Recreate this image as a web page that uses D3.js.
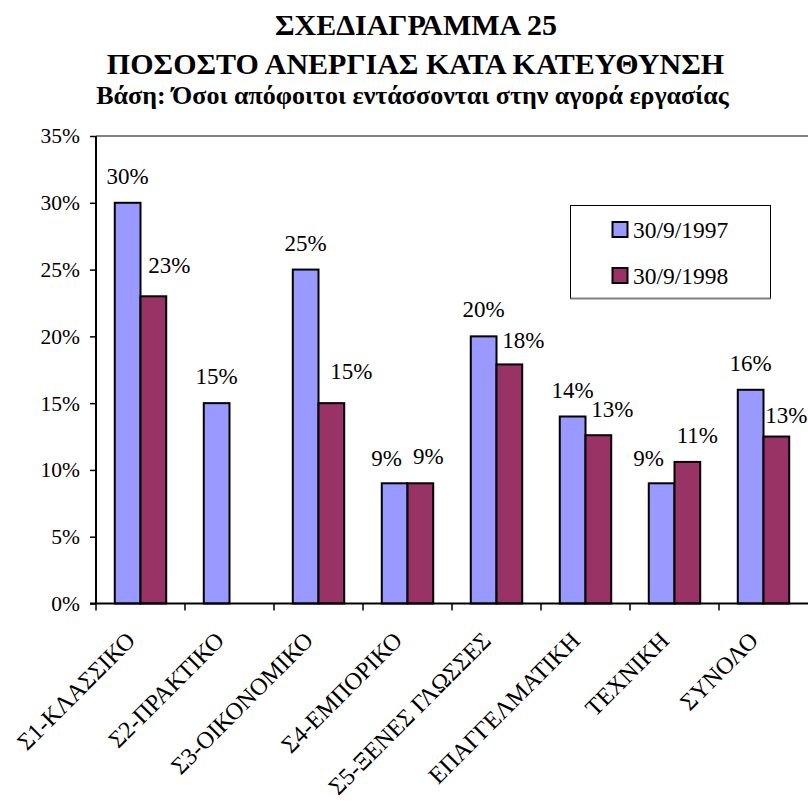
<!DOCTYPE html>
<html>
<head>
<meta charset="utf-8">
<script src="https://cdn.jsdelivr.net/npm/d3@7"></script>
<style>
    body { margin: 0; background: #fff; }
    text { font-family: "Liberation Serif", "Times New Roman", serif; }
</style>
</head>
<body>
<div id="chart"></div>
<script>
(function () {

    // chart data
    var categories = ["Σ1-ΚΛΑΣΣΙΚΟ", "Σ2-ΠΡΑΚΤΙΚΟ", "Σ3-ΟΙΚΟΝΟΜΙΚΟ", "Σ4-ΕΜΠΟΡΙΚΟ",
        "Σ5-ΞΕΝΕΣ ΓΛΩΣΣΕΣ", "ΕΠΑΓΓΕΛΜΑΤΙΚΗ", "ΤΕΧΝΙΚΗ", "ΣΥΝΟΛΟ"];
    var seriesNames = ["30/9/1997", "30/9/1998"];
    var values1997 = [30, 15, 25, 9, 20, 14, 9, 16];
    var values1998 = [23, null, 15, 9, 17.9, 12.6, 10.6, 12.5];
    var yTicks = [0, 5, 10, 15, 20, 25, 30, 35];
    var titleLines = ["ΣΧΕΔΙΑΓΡΑΜΜΑ 25", "ΠΟΣΟΣΤΟ ΑΝΕΡΓΙΑΣ ΚΑΤΑ ΚΑΤΕΥΘΥΝΣΗ"];
    var subtitle = "Βάση: Όσοι απόφοιτοι εντάσσονται στην αγορά εργασίας";

    // hand nudges of the value labels (as in the original sheet)
    var nudge1997 = [[0, 0], [0, 0], [0, 0], [-8, 2], [0, 0], [0, 0], [-13, 2], [0, 0]];
    var nudge1998 = [[16, -4], [0, 0], [20, -5], [8, 0], [14, 3], [14, 1], [10, 0], [10, 5]];

    var colors = ["#9999ff", "#993366"];

    var width = 808;
    var height = 801;
    var left = 96, right = 808, top = 136, bottom = 603.5;

    var svg = d3.select("#chart")
        .append("svg")
        .attr("width", width)
        .attr("height", height);

    svg.append("rect").attr("width", width).attr("height", height).attr("fill", "#fff");

    var x0 = d3.scaleBand().domain(categories).range([left, right]).padding(0);
    var x1 = d3.scaleBand().domain(seriesNames).range([0, x0.bandwidth()])
        .paddingInner(0).paddingOuter(0.73);
    var y = d3.scaleLinear().domain([0, 35]).range([bottom, top]);

    // titles
    svg.append("text")
        .attr("x", 416).attr("y", 35)
        .attr("text-anchor", "middle")
        .attr("font-size", 30).attr("font-weight", "bold")
        .text(titleLines[0]);
    svg.append("text")
        .attr("x", 415.5).attr("y", 74)
        .attr("text-anchor", "middle")
        .attr("font-size", 30).attr("font-weight", "bold")
        .text(titleLines[1]);
    svg.append("text")
        .attr("x", 412.5).attr("y", 104)
        .attr("text-anchor", "middle")
        .attr("font-size", 26).attr("font-weight", "bold")
        .text(subtitle);

    // plot area top border
    svg.append("line")
        .attr("x1", left).attr("x2", right)
        .attr("y1", top).attr("y2", top)
        .attr("stroke", "#808080").attr("stroke-width", 2);

    // bars
    var rows = categories.map(function (c, i) {
        return { cat: c, i: i, vals: [values1997[i], values1998[i]] };
    });

    function barData(d) {
        return seriesNames.map(function (s, k) {
            return { s: s, k: k, v: d.vals[k], i: d.i };
        }).filter(function (e) { return e.v != null; });
    }

    var groups = svg.selectAll(".cat")
        .data(rows)
        .enter().append("g")
        .attr("class", "cat")
        .attr("transform", function (d) { return "translate(" + x0(d.cat) + ",0)"; });

    groups.selectAll("rect")
        .data(barData)
        .enter().append("rect")
        .attr("x", function (d) { return x1(d.s); })
        .attr("y", function (d) { return y(d.v); })
        .attr("width", x1.bandwidth())
        .attr("height", function (d) { return y(0) - y(d.v); })
        .attr("fill", function (d) { return colors[d.k]; })
        .attr("stroke", "#000")
        .attr("stroke-width", 2);

    groups.selectAll(".lbl")
        .data(barData)
        .enter().append("text")
        .attr("class", "lbl")
        .attr("x", function (d) {
            var n = d.k === 0 ? nudge1997[d.i] : nudge1998[d.i];
            return x1(d.s) + x1.bandwidth() / 2 + n[0];
        })
        .attr("y", function (d) {
            var n = d.k === 0 ? nudge1997[d.i] : nudge1998[d.i];
            return y(d.v) - 19 + n[1];
        })
        .attr("text-anchor", "middle")
        .attr("font-size", 23)
        .text(function (d) { return Math.round(d.v) + "%"; });

    // y axis
    var yAxis = d3.axisLeft(y)
        .tickValues(yTicks)
        .tickSize(6)
        .tickPadding(10)
        .tickFormat(function (d) { return d + "%"; });

    var gy = svg.append("g")
        .attr("transform", "translate(" + left + ",0)")
        .call(yAxis);
    gy.select(".domain").attr("stroke", "#000").attr("stroke-width", 2)
        .attr("d", "M0," + top + "V" + bottom);
    gy.selectAll(".tick line").attr("stroke", "#000").attr("stroke-width", 1.5);
    gy.selectAll(".tick text")
        .attr("font-size", 21.5)
        .attr("fill", "#000");

    // x axis: line with ticks at category boundaries
    svg.append("line")
        .attr("x1", left - 6).attr("x2", right)
        .attr("y1", bottom).attr("y2", bottom)
        .attr("stroke", "#000").attr("stroke-width", 2);

    svg.selectAll(".xtick")
        .data(categories)
        .enter().append("line")
        .attr("class", "xtick")
        .attr("x1", function (d) { return x0(d); })
        .attr("x2", function (d) { return x0(d); })
        .attr("y1", bottom).attr("y2", bottom + 7)
        .attr("stroke", "#000").attr("stroke-width", 1.5);

    svg.selectAll(".xlabel")
        .data(categories)
        .enter().append("text")
        .attr("class", "xlabel")
        .attr("text-anchor", "end")
        .attr("font-size", 24)
        .attr("transform", function (d) {
            return "translate(" + (x0(d) + x0.bandwidth() / 2 - 4) + ",642) rotate(-45)";
        })
        .text(function (d) { return d; });

    // legend
    var legend = svg.append("g").attr("transform", "translate(570.5,205.5)");
    legend.append("rect")
        .attr("width", 200).attr("height", 93)
        .attr("fill", "#fff")
        .attr("stroke", "#000").attr("stroke-width", 1);
    legend.append("line")
        .attr("x1", 0).attr("x2", 200).attr("y1", 93).attr("y2", 93)
        .attr("stroke", "#808080").attr("stroke-width", 2);

    var items = legend.selectAll(".item")
        .data(seriesNames)
        .enter().append("g")
        .attr("class", "item")
        .attr("transform", function (d, i) { return "translate(0," + (i * 46) + ")"; });
    items.append("rect")
        .attr("x", 42).attr("y", 16.5)
        .attr("width", 15).attr("height", 15)
        .attr("fill", function (d, i) { return colors[i]; })
        .attr("stroke", "#000").attr("stroke-width", 2);
    items.append("text")
        .attr("x", 62.5).attr("y", 32)
        .attr("font-size", 23.5)
        .text(function (d) { return d; });

})();
</script>
</body>
</html>
